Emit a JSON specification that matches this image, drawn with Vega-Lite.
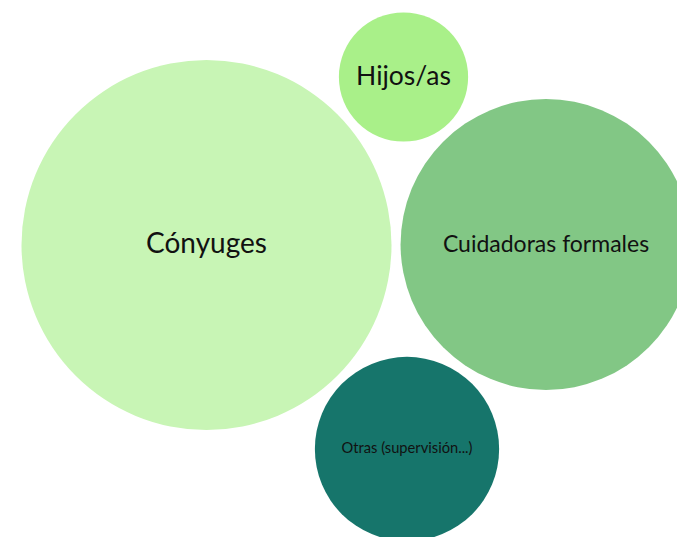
{
  "$schema": "https://vega.github.io/schema/vega-lite/v6.json",
  "width": 677,
  "height": 537,
  "autosize": {"type": "none"},
  "padding": 0,
  "background": "white",
  "view": {"stroke": null},
  "config": {"font": "Lato"},
  "data": {
    "values": [
      {"grupo": "Cónyuges", "valor": 50, "cx": 206.5, "cy": 245, "fs": 28},
      {"grupo": "Hijos/as", "valor": 6.1, "cx": 403.5, "cy": 77, "fs": 26.5},
      {"grupo": "Cuidadoras formales", "valor": 30.9, "cx": 546, "cy": 244.5, "fs": 23},
      {"grupo": "Otras (supervisión...)", "valor": 12.4, "cx": 407, "cy": 449, "fs": 14.7}
    ]
  },
  "encoding": {
    "x": {"field": "cx", "type": "quantitative", "scale": {"domain": [0, 677], "nice": false, "zero": false}, "axis": null},
    "y": {"field": "cy", "type": "quantitative", "scale": {"domain": [0, 537], "nice": false, "zero": false, "reverse": true}, "axis": null}
  },
  "layer": [
    {
      "mark": {"type": "circle", "opacity": 1, "strokeWidth": 0},
      "encoding": {
        "size": {"field": "valor", "type": "quantitative", "scale": {"domain": [0, 50], "range": [0, 136900]}, "legend": null},
        "color": {"field": "grupo", "type": "nominal", "scale": {"domain": ["Cónyuges", "Hijos/as", "Cuidadoras formales", "Otras (supervisión...)"], "range": ["#c8f5b5", "#a9f089", "#82c785", "#16756b"]}, "legend": null}
      }
    },
    {
      "mark": {"type": "text", "align": "center", "baseline": "middle", "color": "#111111"},
      "encoding": {
        "text": {"field": "grupo"},
        "size": {"field": "fs", "type": "quantitative", "scale": null}
      }
    }
  ]
}
